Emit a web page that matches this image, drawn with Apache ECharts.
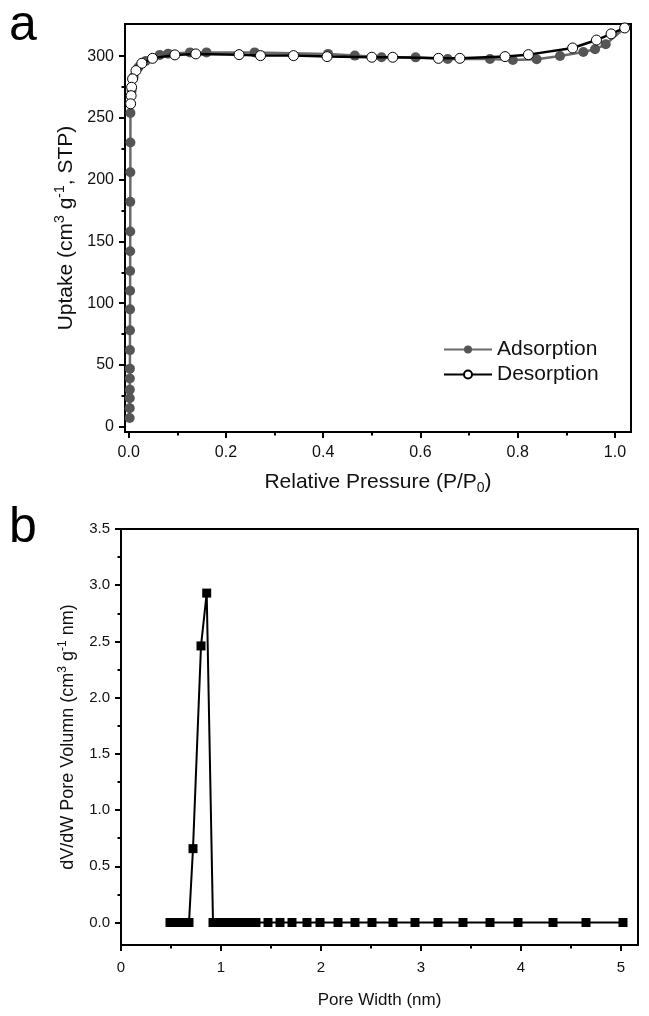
<!DOCTYPE html>
<html><head><meta charset="utf-8">
<script src="https://cdn.jsdelivr.net/npm/echarts@6/dist/echarts.min.js"></script>
<style>html,body{margin:0;padding:0;background:#fff}#c{width:649px;height:1016px}</style>
</head><body><div id="c"></div>
<script>
// Panel a: N2 isotherm
const adsX = [0.0020,0.0021,0.0022,0.0023,0.0024,0.0025,0.0026,0.0027,0.0028,0.0029,0.0030,0.0031,0.0032,0.0033,0.0034,0.0035,0.0036,0.006,0.010,0.020,0.035,0.064,0.081,0.126,0.160,0.259,0.410,0.465,0.520,0.590,0.656,0.743,0.790,0.839,0.887,0.935,0.959,0.981,1.020];
const adsY = [7,15,23,30,39,47,62,78,95,110,126,142,158,182,206,230,254,272,283,291,296,301,302,303,303,303,301.8,300.4,299.1,299,297.7,297.7,296.8,297.5,300.1,303.4,305.5,309.6,322.8];
const desX = [1.020,0.992,0.962,0.913,0.822,0.774,0.681,0.637,0.543,0.500,0.408,0.339,0.271,0.227,0.138,0.095,0.049,0.027,0.015,0.008,0.006,0.005,0.004];
const desY = [322.8,318,313,306.6,301.2,299.6,298.2,298.2,299.1,299.1,299.6,300.4,300.4,301.2,301.8,301,298.2,294.2,288.3,281.6,274.8,268,261.4];
const aXTicks = [0,0.2,0.4,0.6,0.8,1.0];
const aXMinor = [0.1,0.3,0.5,0.7,0.9];
const aYTicks = [0,50,100,150,200,250,300];
const aYMinor = [25,75,125,175,225,275];
// Panel b: pore size distribution
const poreX = [0.49,0.53,0.57,0.61,0.645,0.68,0.72,0.80,0.857,0.92,0.96,1.00,1.04,1.08,1.12,1.16,1.20,1.24,1.28,1.32,1.35,1.47,1.59,1.71,1.86,1.99,2.17,2.34,2.51,2.72,2.94,3.17,3.42,3.69,3.97,4.32,4.65,5.02];
const poreY = [0,0,0,0,0,0,0.657,2.46,2.93,0,0,0,0,0,0,0,0,0,0,0,0,0,0,0,0,0,0,0,0,0,0,0,0,0,0,0,0,0];
const bXTicks = [0,1,2,3,4,5];
const bXMinor = [0.5,1.5,2.5,3.5,4.5];
const bYTicks = [0,0.5,1.0,1.5,2.0,2.5,3.0,3.5];
const bYMinor = [0.25,0.75,1.25,1.75,2.25,2.75,3.25];

const FONT = 'Liberation Sans, Arial, sans-serif';
const TXT = '#111';
const zip = (a,b)=>a.map((v,i)=>[v,b[i]]);
function mkRich(fs){
  const ss = Math.round(fs*0.65);
  return {
    n:{fontSize:fs,fontFamily:FONT,color:TXT,lineHeight:fs+5},
    sup:{fontSize:ss,fontFamily:FONT,color:TXT,verticalAlign:'top',lineHeight:ss+1},
    sub:{fontSize:ss,fontFamily:FONT,color:TXT,verticalAlign:'bottom',lineHeight:ss+1}
  };
}
function mainX(gi,min,max,ticks,name,gap,fmt,nfs,lfs,margin){
  return {gridIndex:gi,type:'value',min:min,max:max,position:'bottom',
    name:name,nameLocation:'middle',nameGap:gap,nameTextStyle:{rich:mkRich(nfs),fontSize:nfs,fontFamily:FONT,color:TXT},
    axisLine:{show:true,onZero:false,lineStyle:{color:'#000',width:2}},
    axisTick:{show:true,customValues:ticks,length:6,lineStyle:{color:'#000',width:2}},
    axisLabel:{show:true,customValues:ticks,margin:margin,fontSize:lfs,fontFamily:FONT,color:TXT,formatter:fmt},
    splitLine:{show:false}};
}
function minorX(gi,min,max,ticks){
  return {gridIndex:gi,type:'value',min:min,max:max,position:'bottom',
    axisLine:{show:false,onZero:false},
    axisTick:{show:true,customValues:ticks,length:3.5,lineStyle:{color:'#000',width:2}},
    axisLabel:{show:false},splitLine:{show:false}};
}
function mainY(gi,min,max,ticks,name,gap,fmt,nfs,lfs,margin){
  return {gridIndex:gi,type:'value',min:min,max:max,position:'left',
    name:name,nameLocation:'middle',nameGap:gap,nameTextStyle:{rich:mkRich(nfs),fontSize:nfs,fontFamily:FONT,color:TXT},
    axisLine:{show:true,onZero:false,lineStyle:{color:'#000',width:2}},
    axisTick:{show:true,customValues:ticks,length:6,lineStyle:{color:'#000',width:2}},
    axisLabel:{show:true,customValues:ticks,margin:margin,fontSize:lfs,fontFamily:FONT,color:TXT,formatter:fmt},
    splitLine:{show:false}};
}
function minorY(gi,min,max,ticks){
  return {gridIndex:gi,type:'value',min:min,max:max,position:'left',
    axisLine:{show:false,onZero:false},
    axisTick:{show:true,customValues:ticks,length:3.5,lineStyle:{color:'#000',width:2}},
    axisLabel:{show:false},splitLine:{show:false}};
}
const chart = echarts.init(document.getElementById('c'),null,{renderer:'canvas'});
chart.setOption({
  animation:false,
  backgroundColor:'#fff',
  textStyle:{fontFamily:FONT},
  title:[
    {text:'a',left:4,top:-4,textStyle:{fontSize:50,fontWeight:'normal',fontFamily:FONT,color:'#000'}},
    {text:'b',left:4,top:498,textStyle:{fontSize:50,fontWeight:'normal',fontFamily:FONT,color:'#000'}}
  ],
  grid:[
    {left:125,top:24,width:506,height:408,show:true,borderColor:'#000',borderWidth:2,backgroundColor:'transparent'},
    {left:121,top:529,width:517,height:416,show:true,borderColor:'#000',borderWidth:2,backgroundColor:'transparent'}
  ],
  legend:{show:true,orient:'vertical',left:438,top:334,itemWidth:48,itemHeight:10,itemGap:4,
    textStyle:{fontSize:21,fontFamily:FONT,color:TXT,padding:[0,0,0,0]},data:['Adsorption','Desorption']},
  xAxis:[
    mainX(0,-0.0076,1.033,aXTicks,'{n|Relative Pressure (P/P}{sub|0}{n|)}',37,v=>v.toFixed(1),21,16,13),
    minorX(0,-0.0076,1.033,aXMinor),
    mainX(1,0,5.17,bXTicks,'{n|Pore Width (nm)}',44,v=>String(v),17,15,15),
    minorX(1,0,5.17,bXMinor)
  ],
  yAxis:[
    mainY(0,-4.3,326,aYTicks,'{n|Uptake (cm}{sup|3}{n| g}{sup|-1}{n|, STP)}',46,v=>String(v),21,16,11),
    minorY(0,-4.3,326,aYMinor),
    mainY(1,-0.2,3.5,bYTicks,'{n|dV/dW Pore Volumn (cm}{sup|3}{n| g}{sup|-1}{n| nm)}',41,v=>v.toFixed(1),18,15,11),
    minorY(1,-0.2,3.5,bYMinor)
  ],
  series:[
    {name:'Adsorption',type:'line',xAxisIndex:0,yAxisIndex:0,data:zip(adsX,adsY),
      symbol:'circle',symbolSize:10,showAllSymbol:true,
      lineStyle:{color:'#6a6a6a',width:2.5},itemStyle:{color:'#555',borderColor:'#555',borderWidth:0},z:2},
    {name:'Desorption',type:'line',xAxisIndex:0,yAxisIndex:0,data:zip(desX,desY),
      symbol:'circle',symbolSize:10,showAllSymbol:true,
      lineStyle:{color:'#000',width:2.5},itemStyle:{color:'#fff',borderColor:'#000',borderWidth:1},z:3},
    {name:'PSD',type:'line',xAxisIndex:2,yAxisIndex:2,data:zip(poreX,poreY),
      symbol:'rect',symbolSize:9,showAllSymbol:true,
      lineStyle:{color:'#000',width:2},itemStyle:{color:'#000'},z:3}
  ]
});
</script></body></html>
